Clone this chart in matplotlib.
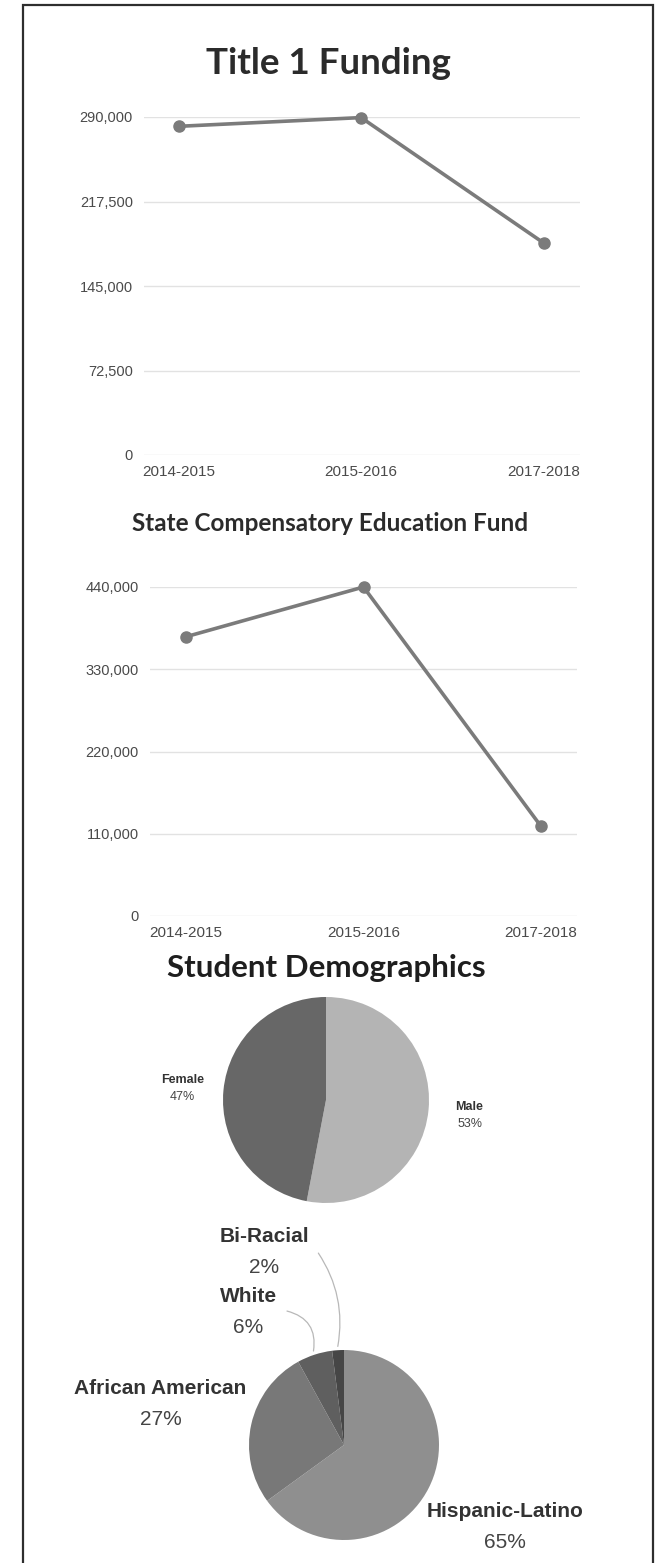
import matplotlib
matplotlib.use("Agg")
import matplotlib.pyplot as plt
import numpy as np
from matplotlib.patches import Rectangle
from matplotlib.ticker import FuncFormatter

# data
years = ["2014-2015", "2015-2016", "2017-2018"]
title1_funding = [282000, 289500, 182000]
title1_ticks = [0, 72500, 145000, 217500, 290000]
sce_fund = [373500, 440000, 120000]
sce_ticks = [0, 110000, 220000, 330000, 440000]

gender_labels = ["Male", "Female"]
gender_pct = [53, 47]
race_labels = ["Hispanic-Latino", "African American", "White", "Bi-Racial"]
race_pct = [65, 27, 6, 2]

W, H = 658, 1563
fig = plt.figure(figsize=(W / 100, H / 100), dpi=100)
fig.patch.set_facecolor("white")

def box(x0, y0, x1, y1):
    # pixel box (top-left origin) -> figure fraction
    return [x0 / W, 1 - y1 / H, (x1 - x0) / W, (y1 - y0) / H]

title_font = "Lato"
label_font = ["Liberation Sans", "DejaVu Sans"]
line_col = "#7b7b7b"

# border
fig.add_artist(Rectangle((22.5 / W, -0.01), (653 - 22.5) / W, 1.01 - 4.7 / H,
                         transform=fig.transFigure, fill=False, ec="#2e2e2e", lw=1.6))

def line_chart(rect, vals, ticks, xlim):
    ax = fig.add_axes(rect)
    x = np.arange(len(years))
    ax.plot(x, vals, color=line_col, lw=2.6, marker="o", ms=8, clip_on=False, zorder=3)
    ax.set_ylim(ticks[0], ticks[-1])
    ax.set_yticks(ticks)
    ax.yaxis.set_major_formatter(FuncFormatter(lambda v, p: f"{int(v):,}"))
    ax.set_xticks(x)
    ax.set_xticklabels(years)
    ax.set_xlim(*xlim)
    ax.grid(axis="y", color="#e2e2e2", lw=1.0)
    ax.set_axisbelow(True)
    for s in ax.spines.values():
        s.set_visible(False)
    ax.tick_params(length=0, colors="#4a4a4a")
    ax.tick_params(axis="y", pad=8, labelsize=10.5)
    ax.tick_params(axis="x", pad=7, labelsize=11)
    for t in ax.get_xticklabels() + ax.get_yticklabels():
        t.set_family(label_font)
    return ax

fig.text(328 / W, 1 - 74 / H, "Title 1 Funding", ha="center", va="baseline",
         fontsize=26.5, fontweight="bold", family=title_font, color="#2b2b2b")
line_chart(box(144, 117, 580, 455), title1_funding, title1_ticks, (-0.19, 2.2))

fig.text(330 / W, 1 - 531 / H, "State Compensatory Education Fund", ha="center", va="baseline",
         fontsize=17.5, fontweight="bold", family=title_font, color="#2b2b2b")
line_chart(box(150, 587, 577, 916), sce_fund, sce_ticks, (-0.203, 2.203))

fig.text(326 / W, 1 - 977 / H, "Student Demographics", ha="center", va="baseline",
         fontsize=22.5, fontweight="bold", family=title_font, color="#1e1e1e")

# gender pie
cx, cy, r = 326, 1100, 103
ax = fig.add_axes(box(cx - 2 * r, cy - 2 * r, cx + 2 * r, cy + 2 * r))
wedges, _ = ax.pie(gender_pct, colors=["#b4b4b4", "#676767"], startangle=90,
                   counterclock=False, radius=1)
ax.set_xlim(-2, 2)
ax.set_ylim(-2, 2)
for w, name, p in zip(wedges, gender_labels, gender_pct):
    a = np.deg2rad((w.theta1 + w.theta2) / 2)
    lx, ly = 1.4 * np.cos(a), 1.4 * np.sin(a)
    ax.text(lx, ly + 0.06, name, ha="center", va="center", fontsize=9,
            fontweight="bold", family=label_font, color="#333333")
    ax.text(lx, ly - 0.1, f"{p}%", ha="center", va="center", fontsize=9,
            family=label_font, color="#444444")

# race pie
cx, cy, r = 344, 1445, 95
ax = fig.add_axes(box(cx - 3 * r, cy - 3 * r, cx + 3 * r, cy + 3 * r))
wedges, _ = ax.pie(race_pct, colors=["#8f8f8f", "#787878", "#5f5f5f", "#464646"],
                   startangle=90, counterclock=False, radius=1)
ax.set_xlim(-3, 3)
ax.set_ylim(-3, 3)
# label placement: (radius along slice, or fixed spot for the thin slices)
spots = {"White": (-1.01, 1.40), "Bi-Racial": (-0.84, 2.03)}
lead_from = {"White": (-0.6, 1.41, -0.45), "Bi-Racial": (-0.27, 2.02, -0.2)}
dist = {"Hispanic-Latino": 1.9, "African American": 1.98}
for w, name, p in zip(wedges, race_labels, race_pct):
    a = np.deg2rad((w.theta1 + w.theta2) / 2)
    if name in spots:
        lx, ly = spots[name]
        sx, sy, rad = lead_from[name]
        ax.annotate("", xy=(1.04 * np.cos(a), 1.04 * np.sin(a)), xytext=(sx, sy),
                    arrowprops=dict(arrowstyle="-", color="#b8b8b8", lw=0.9,
                                    connectionstyle=f"arc3,rad={rad}",
                                    shrinkA=0, shrinkB=0))
    else:
        lx, ly = dist[name] * np.cos(a), dist[name] * np.sin(a)
    ax.text(lx, ly + 0.16, name, ha="center", va="center", fontsize=15,
            fontweight="bold", family=label_font, color="#333333")
    ax.text(lx, ly - 0.16, f"{p}%", ha="center", va="center", fontsize=15,
            family=label_font, color="#444444")

fig.savefig("out.png", dpi=100, facecolor="white")
